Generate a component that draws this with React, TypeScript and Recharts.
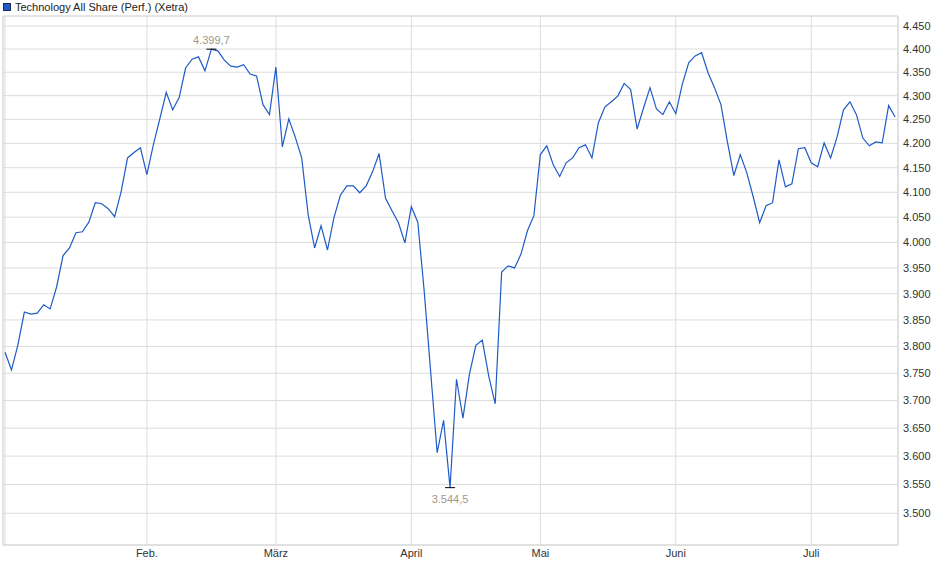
import React from "react";
import { LineChart, Line, XAxis, YAxis, CartesianGrid, ReferenceArea } from "recharts";

// daily closes, Jan 2 – Jul 18
const values = [
  3789, 3756, 3803, 3865, 3861, 3863, 3879, 3871, 3913, 3974,
  3989, 4019, 4021, 4040, 4079, 4077, 4067, 4051, 4101, 4170,
  4181, 4191, 4136, 4197, 4251, 4307, 4270, 4296, 4359, 4378,
  4383, 4353, 4399.7, 4396, 4376, 4363, 4361, 4366, 4346, 4342,
  4281, 4260, 4361, 4193, 4251, 4213, 4170, 4055, 3989, 4033,
  3985, 4049, 4094, 4113, 4113, 4099, 4113, 4142, 4179, 4088,
  4063, 4039, 3999, 4071, 4040, 3904, 3752, 3606, 3664, 3544.5,
  3739, 3668, 3748, 3802, 3812, 3745, 3694, 3942, 3954, 3950,
  3977, 4023, 4053, 4177, 4195, 4156, 4132, 4160, 4170, 4191,
  4197, 4170, 4243, 4276, 4287, 4299, 4326, 4313, 4230, 4274,
  4317, 4272, 4260, 4287, 4262, 4324, 4370, 4385, 4392, 4349,
  4317, 4281, 4203, 4134, 4177, 4140, 4091, 4039, 4073, 4079,
  4166, 4111, 4117, 4189, 4191, 4160, 4152, 4201, 4170, 4213,
  4270, 4287, 4260, 4211, 4195, 4203, 4201, 4279, 4255,
];

// index of the first trading day of each month
const monthTicks = [0, 22, 42, 63, 83, 104, 125];
const monthLabels = ["", "Feb.", "März", "April", "Mai", "Juni", "Juli"];

const yTicks = [
  3500, 3550, 3600, 3650, 3700, 3750, 3800, 3850, 3900, 3950,
  4000, 4050, 4100, 4150, 4200, 4250, 4300, 4350, 4400, 4450,
];

const X_DOMAIN: [number, number] = [-0.31, 138.45];
const Y_DOMAIN: [number, number] = [3445.7, 4472.2];

const FONT = '"Liberation Sans", Arial, sans-serif';
const LINE_COLOR = "#1f5bc6";
const GRID_COLOR = "#dcdcdc";

const fmtInt = (v: number) =>
  `${Math.floor(v / 1000)}.${String(Math.round(v) % 1000).padStart(3, "0")}`;

const fmtDec = (v: number) => {
  const whole = Math.floor(v);
  const dec = Math.round((v - whole) * 10);
  return `${Math.floor(whole / 1000)}.${String(whole % 1000).padStart(3, "0")},${dec}`;
};

const data = values.map((v, i) => ({ i, v }));

const maxIdx = values.reduce((best, v, i) => (v > values[best] ? i : best), 0);
const minIdx = values.reduce((best, v, i) => (v < values[best] ? i : best), 0);

function renderDot(p: any) {
  const { cx, cy, index } = p;
  if (index === maxIdx || index === minIdx) {
    const isMax = index === maxIdx;
    return (
      <g key={`mark-${index}`}>
        <line x1={cx - 5} x2={cx + 5} y1={cy} y2={cy} stroke="#000" strokeWidth={1} />
        <text
          x={cx}
          y={isMax ? cy - 5 : cy + 15}
          textAnchor="middle"
          fontSize={11}
          fontFamily={FONT}
          fill="#a39787"
        >
          {fmtDec(values[index])}
        </text>
      </g>
    );
  }
  return <g key={`d-${index}`} />;
}

export default function App() {
  return (
    <div
      style={{
        position: "absolute",
        left: 0,
        top: 0,
        width: 940,
        height: 579,
        background: "#fff",
        fontFamily: FONT,
      }}
    >
      {/* legend */}
      <div
        style={{
          position: "absolute",
          left: 3,
          top: 0,
          height: 13,
          display: "flex",
          alignItems: "center",
          fontSize: 11,
          color: "#222",
        }}
      >
        <span
          style={{
            display: "inline-block",
            width: 6,
            height: 6,
            background: LINE_COLOR,
            border: "1px solid #1a2a50",
            marginRight: 4,
          }}
        />
        Technology All Share (Perf.) (Xetra)
      </div>

      <LineChart
        width={940}
        height={579}
        data={data}
        margin={{ top: 16, right: 0, bottom: 4, left: 3 }}
      >
        <CartesianGrid stroke={GRID_COLOR} strokeWidth={1} />
        <XAxis
          dataKey="i"
          type="number"
          domain={X_DOMAIN}
          allowDataOverflow
          ticks={monthTicks}
          tickFormatter={(v: number) => monthLabels[monthTicks.indexOf(v)] ?? ""}
          tickLine={false}
          axisLine={{ stroke: GRID_COLOR }}
          tickSize={0}
          tickMargin={4}
          height={30}
          tick={{ fill: "#333", fontSize: 11, fontFamily: FONT }}
          interval={0}
        />
        <YAxis
          orientation="right"
          scale="log"
          domain={Y_DOMAIN}
          allowDataOverflow
          ticks={yTicks}
          tickFormatter={fmtInt}
          tickLine={false}
          axisLine={{ stroke: GRID_COLOR }}
          tickSize={0}
          tickMargin={5}
          width={42}
          tick={{ fill: "#333", fontSize: 11, fontFamily: FONT, textAnchor: "start" }}
          interval={0}
        />
        <ReferenceArea
          x1={X_DOMAIN[0]}
          x2={X_DOMAIN[1]}
          y1={Y_DOMAIN[0]}
          y2={Y_DOMAIN[1]}
          stroke={GRID_COLOR}
          fill="none"
          fillOpacity={0}
        />
        <Line
          type="linear"
          dataKey="v"
          stroke={LINE_COLOR}
          strokeWidth={1.2}
          dot={renderDot}
          activeDot={false}
          isAnimationActive={false}
        />
      </LineChart>
    </div>
  );
}
